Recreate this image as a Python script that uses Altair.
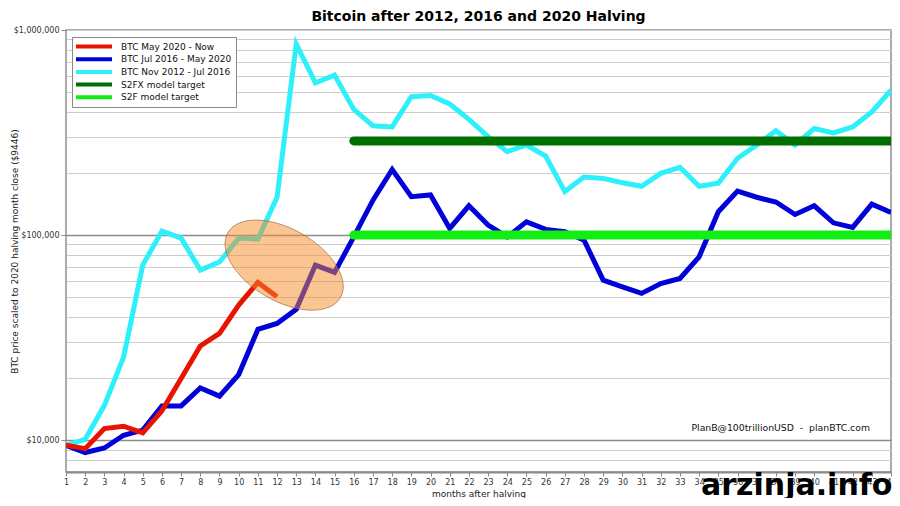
import altair as alt
import pandas as pd

# ---------------- data ----------------
months = list(range(1, 45))

btc_2012 = [9446, 10100, 14800, 25400, 71400, 104600, 96700, 67500, 73900, 96700,
            95600, 153000, 855000, 553000, 603000, 410000, 341000, 337000, 473000, 479000,
            436000, 367000, 302000, 255000, 275000, 243000, 163000, 192000, 189000, 180000,
            173000, 200000, 214000, 173000, 179000, 237000, 275000, 323000, 275000, 331000,
            315000, 337000, 399000, 509000]

btc_2016 = [9446, 8710, 9160, 10570, 11200, 14700, 14700, 18000, 16400, 20900,
            34700, 37100, 43500, 71400, 65800, 98000, 148000, 209000, 154000, 157000,
            107800, 139000, 112000, 98000, 116000, 106600, 103800, 94500, 60300, 56000,
            52000, 58100, 61500, 78400, 130000, 164000, 153000, 145000, 126000, 139000,
            114800, 109000, 141600, 129000]

btc_2020 = [9446, 9100, 11400, 11700, 10860, 13900, 20000, 28800, 33200, 45600,
            58800, 50000]

target_months = [16, 44]
s2fx_target = 288000
s2f_target = 100000

series_names = ["BTC May 2020 - Now", "BTC Jul 2016 - May 2020", "BTC Nov 2012 - Jul 2016",
                "S2FX model target", "S2F model target"]
series_colors = ["#e81400", "#0000d8", "#2ef0fa", "#006e00", "#12ee12"]

# annotation ellipse (centre in data units)
ellipse_month = [12.37]
ellipse_value = [71400]

credit_text = ["PlanB@100trillionUSD\u00a0\u00a0-\u00a0\u00a0planBTC.com"]
credit_month = [33.6]
credit_value = [11440]

watermark_text = ["arzinja.info"]
watermark_month = [34.1]
watermark_value = [5400]

y_grid = [7000, 8000, 9000] + [k * 10000 for k in range(1, 10)] + \
         [k * 100000 for k in range(1, 10)] + [1000000]

# ---------------- tables ----------------
rows = []
for m, v in zip(months, btc_2012):
    rows.append({"month": m, "value": v, "series": series_names[2]})
for m, v in zip(months, btc_2016):
    rows.append({"month": m, "value": v, "series": series_names[1]})
for m, v in zip(months, btc_2020):
    rows.append({"month": m, "value": v, "series": series_names[0]})
for m in target_months:
    rows.append({"month": m, "value": s2fx_target, "series": series_names[3]})
    rows.append({"month": m, "value": s2f_target, "series": series_names[4]})
df = pd.DataFrame(rows)

ell_df = pd.DataFrame({"month": ellipse_month, "value": ellipse_value})
credit_df = pd.DataFrame({"month": credit_month, "value": credit_value, "t": credit_text})
wm_df = pd.DataFrame({"month": watermark_month, "value": watermark_value, "t": watermark_text})

FONT = "DejaVu Sans"
major_test = "datum.value == 10000 || datum.value == 100000"

x_enc = alt.X(
    "month:Q",
    scale=alt.Scale(domain=[1, 44], nice=False, zero=False),
    axis=alt.Axis(values=months, tickSize=4, labelFontSize=8, labelColor="#333",
                  tickColor="#888", domainColor="#8a8a8a", domainWidth=2, grid=False,
                  labelPadding=2, labelFlush=False, labelOverlap=False,
                  title="months after halving", titleFontSize=9, titleFontWeight="normal",
                  titleColor="#222", titleY=21, titleBaseline="middle", titleFont=FONT,
                  labelFont=FONT),
)
y_enc = alt.Y(
    "value:Q",
    scale=alt.Scale(type="log", domain=[7000, 1000000], nice=False),
    axis=alt.Axis(values=y_grid,
                  labelExpr="(datum.value == 10000 || datum.value == 100000 || datum.value == 1000000) ? '$' + format(datum.value, ',') : ''",
                  labelFontSize=8, labelColor="#333", labelFont=FONT, labelOverlap=False,
                  labelFlush=False,
                  gridColor={"condition": {"test": major_test, "value": "#8c8c8c"}, "value": "#cdcdcd"},
                  gridWidth={"condition": {"test": major_test, "value": 1.6}, "value": 1.2},
                  tickOpacity={"condition": {"test": major_test + " || datum.value == 1000000", "value": 1}, "value": 0},
                  tickColor="#888", tickSize=5, domain=False,
                  title="BTC price scaled to 2020 halving month close ($9446)",
                  titleFontSize=9, titleFontWeight="normal", titleColor="#222", titleFont=FONT,
                  titleX=-52, titleY=221, titleAlign="center", titleBaseline="middle"),
)
color_enc = alt.Color(
    "series:N",
    scale=alt.Scale(domain=series_names, range=series_colors),
    legend=alt.Legend(title=None, orient="none", legendX=6, legendY=7,
                      symbolType="M -1.5 0 L 7.5 0", symbolSize=64, symbolStrokeWidth=4,
                      labelFontSize=9, labelFont=FONT, labelColor="#111", labelOffset=33,
                      clipHeight=11, padding=4, rowPadding=1.7, strokeColor="#888",
                      fillColor="white", labelLimit=200),
)

base = alt.Chart(df).encode(x=x_enc, y=y_enc, color=color_enc)

def series_line(name, width, cap="butt"):
    return base.transform_filter(alt.datum.series == name).mark_line(
        strokeWidth=width, strokeCap=cap, clip=True)

cyan = series_line(series_names[2], 5)
blue = series_line(series_names[1], 5)
red = series_line(series_names[0], 5)
s2fx = series_line(series_names[3], 9, "round")
s2f = series_line(series_names[4], 9, "round")

ellipse = alt.Chart(ell_df).mark_point(
    shape="M -1 0 A 1 0.554 0 1 0 1 0 A 1 0.554 0 1 0 -1 0 Z",
    filled=True, fill="#f58a28", fillOpacity=0.5,
    stroke="#a86a3c", strokeWidth=0.8, strokeOpacity=0.8,
    size=16900, angle=30,
).encode(x=x_enc, y=y_enc)

credit = alt.Chart(credit_df).mark_text(
    align="left", baseline="middle", fontSize=9.3, font=FONT, color="#111"
).encode(x=x_enc, y=y_enc, text="t:N")

watermark = alt.Chart(wm_df).mark_text(
    align="left", baseline="alphabetic", fontSize=30, fontWeight="bold", font=FONT,
    color="#000000"
).encode(x=x_enc, y=y_enc, text="t:N")

chart = alt.layer(cyan, blue, red, s2fx, s2f, ellipse, credit, watermark).properties(
    width=825, height=442,
    padding={"left": 58, "top": 22, "right": 1, "bottom": 26},
    autosize=alt.AutoSizeParams(type="none"),
    title=alt.TitleParams("Bitcoin after 2012, 2016 and 2020 Halving", fontSize=14,
                          fontWeight="bold", font=FONT, color="#000", offset=2),
).configure(font=FONT).configure_view(stroke="#8f8f8f", strokeWidth=1.5)

chart.save("out.html", embed_options={"renderer": "svg", "actions": False})
